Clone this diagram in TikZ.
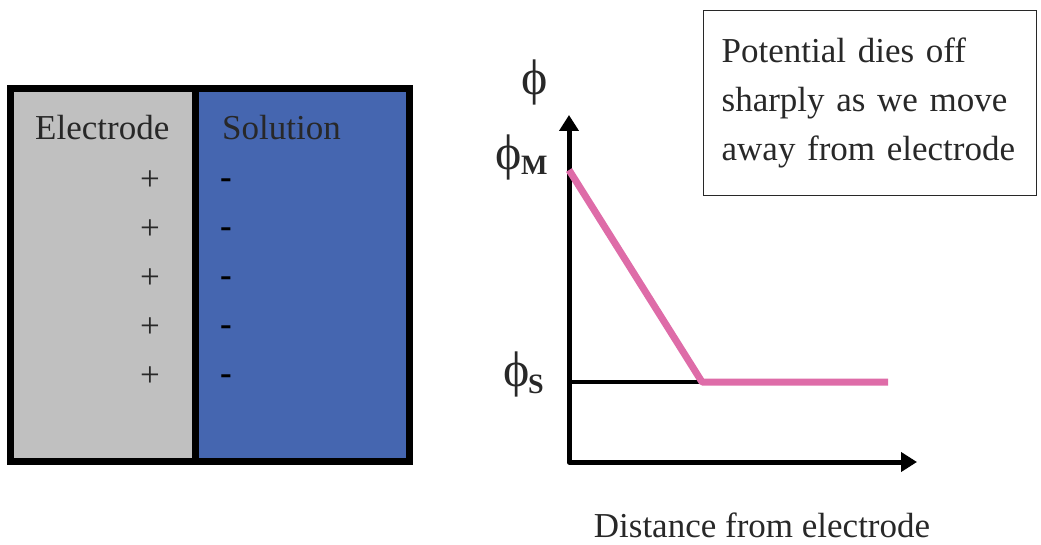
\documentclass[tikz,border=0pt]{standalone}
\usepackage{fontspec}
\setmainfont{Liberation Serif}
\usetikzlibrary{arrows.meta}
\definecolor{elgray}{RGB}{192,192,192}
\definecolor{solblue}{RGB}{69,102,176}
\definecolor{pinkline}{RGB}{222,108,168}
\definecolor{txt}{RGB}{40,40,40}
\tikzset{
  lbl/.style={text=txt, inner sep=0pt, font=\fontsize{35}{49}\selectfont},
  phisym/.style={text=txt, inner sep=0pt, font=\fontsize{50}{55}\selectfont},
  sub/.style={text=txt, inner sep=0pt, font=\fontsize{28}{30}\selectfont\bfseries},
  charge/.style={text=txt, inner sep=0pt, font=\fontsize{35}{40}\selectfont},
  axis/.style={line width=5pt, line join=round, {Triangle[length=16pt,width=19pt]}-{Triangle[length=16pt,width=19pt]}},
  curve/.style={line width=7pt, pinkline, line join=round},
  note/.style={draw=txt, line width=1.3pt, text=txt, align=left, anchor=north west,
    minimum width=333pt, minimum height=185pt, text width=297pt, inner xsep=18pt,
    font=\fontsize{35}{49}\selectfont}
}
\begin{document}
\begin{tikzpicture}[x=1pt,y=-1pt]
\useasboundingbox (0,0) rectangle (1041,545);
% electrode / solution box
\fill[elgray] (10,89) rectangle (195.5,461);
\fill[solblue] (195.5,89) rectangle (409,461);
\draw[line width=7pt] (10,89) rectangle (409,461);
\draw[line width=7pt] (195.5,89) -- (195.5,461);
\node[lbl, anchor=base west] (el) at (35,140) {Electrode};
\node[lbl, anchor=base west] (so) at (222,140) {Solution};
\foreach \i/\y in {1/178,2/227,3/276,4/325,5/374}{
  \node[charge] (p\i) at (150,\y+3) {+};
  \node[charge, text=black] (m\i) at (226,\y+6) {\bfseries -};
}
% note box
\node[note] (note) at (703,10) {Potential dies off\\sharply as we move\\away from electrode};
% axes
\coordinate (ytip) at (569,115);
\coordinate (O) at (569,462);
\coordinate (xtip) at (917,462);
\draw[axis] (ytip) -- (O) -- (xtip);
\coordinate (m) at (569,170);
\coordinate (k) at (702,382);
\coordinate (s0) at (569,382);
\coordinate (e) at (888,382);
\draw[line width=4pt] (s0) -- (k);
\draw[curve] (m) -- (k) -- (e);
% labels
\node[phisym] (phi) at (535,82) {ϕ};
\node[phisym] (phiM) at (509,157) {ϕ};
\node[sub, anchor=base west] (M) at (521,175) {M};
\node[phisym] (phiS) at (517,374) {ϕ};
\node[sub, anchor=base west] (S) at (528,393) {S};
\node[lbl, anchor=base] (dist) at (762,537) {Distance from electrode};
\end{tikzpicture}
\end{document}
